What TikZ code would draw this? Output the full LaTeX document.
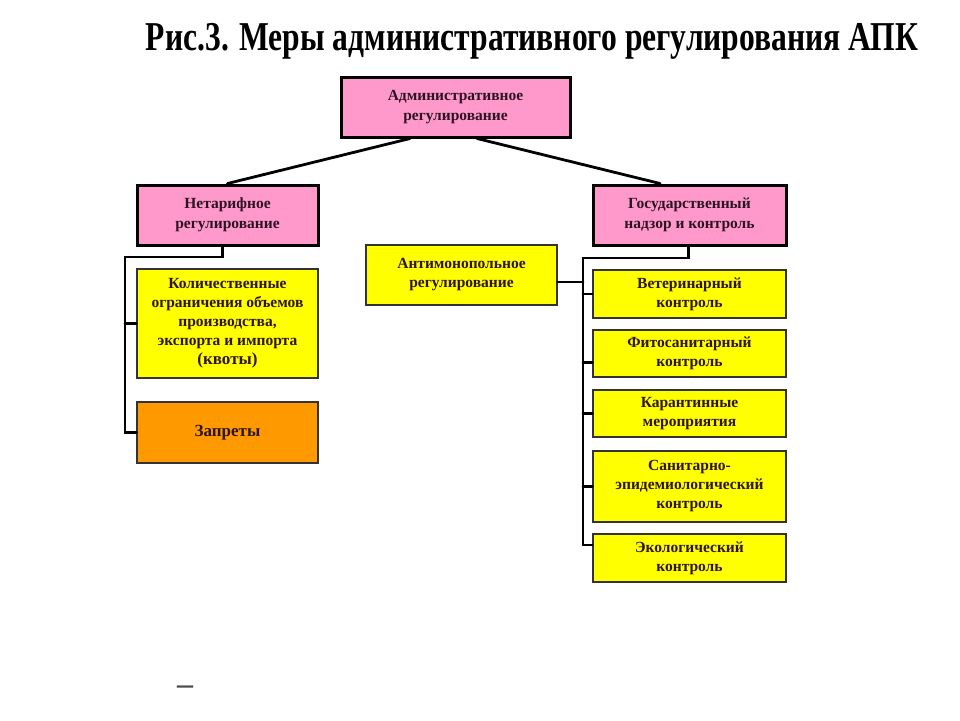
\documentclass[tikz,border=0pt]{standalone}
\usepackage{fontspec}
\usepackage{graphicx}
\setmainfont{Liberation Serif}
\definecolor{pinkfill}{RGB}{255,153,204}
\definecolor{yellowfill}{RGB}{255,255,0}
\definecolor{orangefill}{RGB}{255,153,0}
\definecolor{boxtext}{RGB}{45,20,35}

\begin{document}
\begin{tikzpicture}[x=1pt,y=-1pt,
  headbox/.style={draw=black,line width=3pt,fill=pinkfill,text=boxtext,
    align=center,inner sep=2pt,font=\fontsize{15.5}{19.5}\selectfont\bfseries},
  itembox/.style={draw=black!80,line width=1.2pt,fill=yellowfill,text=boxtext,
    align=center,inner sep=2pt,font=\fontsize{15.5}{19}\selectfont\bfseries},
  link/.style={line width=2.8pt,line cap=round}]
\useasboundingbox (0,0) rectangle (960,720);
\node[anchor=base] (title) at (532,50)
  {\scalebox{0.77}[1]{\fontsize{41}{44}\selectfont\bfseries Рис.3. Меры административного регулирования АПК}};
\node[headbox,minimum width=229,minimum height=60] (adm) at (455.5,107) {Административное\\регулирование};
\node[headbox,minimum width=181,minimum height=60] (netar) at (227.5,215) {Нетарифное\\регулирование};
\node[headbox,minimum width=193,minimum height=60] (gos) at (689.5,215) {Государственный\\надзор и контроль};
\node[itembox,minimum width=191,minimum height=60] (anti) at (461.5,275) {Антимонопольное\\регулирование};
\node[itembox,minimum width=181,minimum height=109] (kol) at (227.5,323.5)
  {Количественные\\ограничения объемов\\производства,\\экспорта и импорта\\{\fontsize{17}{19}\selectfont(квоты)}};
\node[itembox,fill=orangefill,minimum width=181,minimum height=61,font=\fontsize{17}{19}\selectfont\bfseries] (zap) at (227.5,432.5) {Запреты};
\node[itembox,minimum width=193,minimum height=48] (vet) at (689.5,294) {Ветеринарный\\контроль};
\node[itembox,minimum width=193,minimum height=47] (fito) at (689.5,353.5) {Фитосанитарный\\контроль};
\node[itembox,minimum width=193,minimum height=47] (kar) at (689.5,413.5) {Карантинные\\мероприятия};
\node[itembox,minimum width=193,minimum height=71] (san) at (689.5,486.5) {Санитарно-\\эпидемиологический\\контроль};
\node[itembox,minimum width=193,minimum height=48] (eco) at (689.5,558) {Экологический\\контроль};
\node[text=black!70,font=\fontsize{32}{32}\selectfont\bfseries] (dash) at (185,690) {–};
\coordinate (ltop) at (125,257);
\coordinate (rtop) at (583,258);
\coordinate (antiend) at ([yshift=-7]anti.east);
\coordinate (fitoend) at ([yshift=-9]fito.west);
\coordinate (ecoend) at ([yshift=13]eco.west);
\draw[link] ([xshift=-45.5]adm.south) -- (netar.north);
\draw[link] ([xshift=21.5]adm.south) -- ([xshift=-29.5]gos.north);
\draw[link] ([xshift=-5]netar.south) |- (ltop) |- (zap.west);
\draw[link] (ltop |- kol.west) -- (kol.west);
\draw[link] ([xshift=-1]gos.south) |- (rtop) |- (ecoend);
\draw[link] (antiend) -- (rtop |- antiend);
\draw[link] (rtop |- vet.west) -- (vet.west);
\draw[link] (rtop |- fitoend) -- (fitoend);
\draw[link] (rtop |- kar.west) -- (kar.west);
\draw[link] (rtop |- san.west) -- (san.west);
\end{tikzpicture}
\end{document}
